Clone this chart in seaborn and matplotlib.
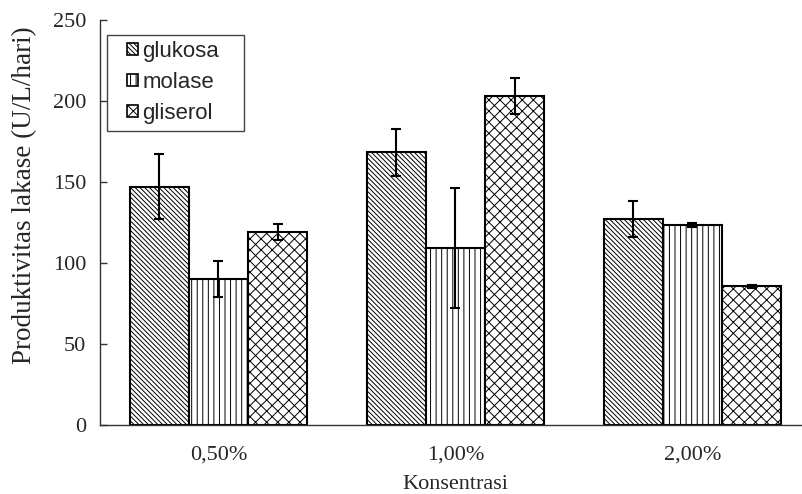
import matplotlib
matplotlib.use("Agg")
import matplotlib.pyplot as plt
from matplotlib.patches import Rectangle
import seaborn as sns
import pandas as pd

# Laccase productivity per carbon source and concentration
konsentrasi = ["0,50%", "1,00%", "2,00%"]
sumber = ["glukosa", "molase", "gliserol"]
glukosa = [147, 168.5, 127]
molase = [90, 109, 123.5]
gliserol = [119, 203, 85.5]
glukosa_err = [20, 14.5, 11]
molase_err = [11, 37, 1]
gliserol_err = [5, 11, 1]
yticks = [0, 50, 100, 150, 200, 250]

values = {"glukosa": glukosa, "molase": molase, "gliserol": gliserol}
errors = {"glukosa": glukosa_err, "molase": molase_err, "gliserol": gliserol_err}

df = pd.DataFrame(
    [(k, s, values[s][i]) for s in sumber for i, k in enumerate(konsentrasi)],
    columns=["Konsentrasi", "Sumber", "Nilai"],
)

sns.set_theme(style="white")
plt.rcParams["hatch.linewidth"] = 0.7
plt.rcParams["hatch.color"] = "#333333"

W, H = 803, 494
fig = plt.figure(figsize=(W / 100, H / 100), dpi=100)
ax = fig.add_axes([100 / W, 69 / H, 711 / W, 405 / H])

sns.barplot(
    data=df, x="Konsentrasi", y="Nilai", hue="Sumber",
    order=konsentrasi, hue_order=sumber,
    palette=["white"] * 3, width=0.75, errorbar=None,
    edgecolor="black", linewidth=1.5, saturation=1, ax=ax, legend=False,
)

hatches = {"glukosa": "\\\\\\\\\\\\\\", "molase": "|||", "gliserol": "xxx"}
bars = ax.patches[: len(sumber) * len(konsentrasi)]
for j, s in enumerate(sumber):
    for i in range(len(konsentrasi)):
        p = bars[j * len(konsentrasi) + i]
        p.set_hatch(hatches[s])
        cx = p.get_x() + p.get_width() / 2
        ax.errorbar(cx, values[s][i], yerr=errors[s][i], fmt="none",
                    ecolor="black", elinewidth=1.5, capsize=3.5,
                    capthick=1.5, zorder=5)

serif = "Liberation Serif"
ax.set_ylim(0, 250)
ax.set_xlim(-0.5, 2.5)
ax.set_yticks(yticks)
ax.set_yticklabels([str(t) for t in yticks], fontfamily=serif, fontsize=16)
ax.set_xticks(range(len(konsentrasi)))
ax.set_xticklabels(konsentrasi, fontfamily=serif, fontsize=16)
ax.set_xticks([0.5, 1.5, 2.5], minor=True)
ax.tick_params(axis="x", which="major", length=0, pad=15)
ax.tick_params(axis="x", which="minor", direction="in", length=4,
               width=1, color="#333333")
ax.tick_params(axis="y", direction="in", length=5, width=1,
               color="#333333", left=True, pad=10)
ax.set_xlabel("Konsentrasi", fontfamily=serif, fontsize=16, labelpad=7)
ax.set_ylabel("Produktivitas lakase (U/L/hari)", fontfamily=serif,
              fontsize=19.5)
ax.yaxis.set_label_coords(-0.088, 0.568)

for side in ["top", "right"]:
    ax.spines[side].set_visible(False)
for side in ["left", "bottom"]:
    ax.spines[side].set_color("#333333")
    ax.spines[side].set_linewidth(1)

# legend box and entries
box = Rectangle((107 / W, 1 - 131 / H), 137 / W, 96 / H,
                transform=fig.transFigure, facecolor="white",
                edgecolor="#444444", linewidth=1, zorder=8)
fig.add_artist(box)
handles = [Rectangle((0, 0), 1, 1, facecolor="white", edgecolor="black",
                     linewidth=1.2, hatch=hatches[s]) for s in sumber]
leg = fig.legend(handles, sumber, loc="upper left",
                 bbox_to_anchor=(127 / W, 1 - 41 / H),
                 bbox_transform=fig.transFigure,
                 prop={"family": "Liberation Sans", "size": 16},
                 handlelength=0.5, handleheight=0.5, handletextpad=0.2,
                 labelspacing=0.45, borderpad=0, frameon=False,
                 borderaxespad=0)
leg.set_zorder(9)

fig.savefig("out.png", dpi=100)
